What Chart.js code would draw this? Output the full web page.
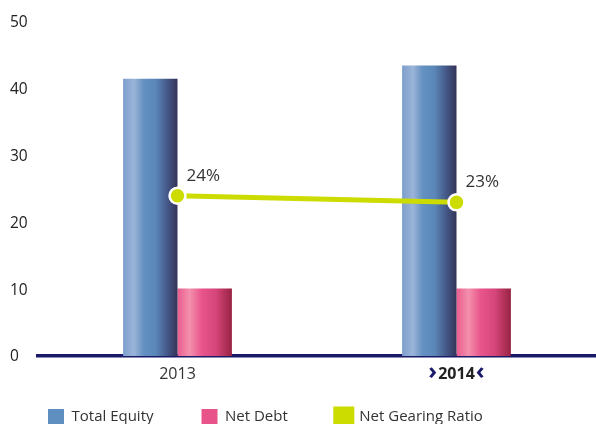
<!DOCTYPE html>
<html>
<head>
<meta charset="utf-8">
<script src="https://cdn.jsdelivr.net/npm/chart.js@4/dist/chart.umd.min.js"></script>
<style>
  html, body { margin: 0; padding: 0; background: #fff; overflow: hidden; }
  #wrap { width: 596px; height: 435px; position: relative; }
</style>
</head>
<body>
<div id="wrap"><canvas id="chart"></canvas></div>
<script>
var years = ['2013', '2014'];
var totalEquity = [41.5, 43.5];
var netDebt = [10.1, 10.1];
var gearingRatio = [24, 23];
var gearingLabels = ['24%', '23%'];
var yTicks = [0, 10, 20, 30, 40, 50];

var FONT = "'Open Sans', 'Noto Sans', sans-serif";
var NAVY = '#1b1a6a';
var LIME = '#cddc00';

// horizontal shading on each bar like the original
var barShade = {
  id: 'barShade',
  beforeDatasetsDraw: function (chart) {
    var ctx = chart.ctx;
    chart.data.datasets.forEach(function (ds, i) {
      if (ds.type !== 'bar') return;
      var meta = chart.getDatasetMeta(i);
      meta.data.forEach(function (el) {
        var p = el.getProps(['x', 'width'], true);
        var g = ctx.createLinearGradient(p.x - p.width / 2, 0, p.x + p.width / 2, 0);
        ds.shade.forEach(function (s) { g.addColorStop(s[0], s[1]); });
        el.options = Object.assign({}, el.options, { backgroundColor: g });
      });
    });
  }
};

// axis labels, ratio labels and the chevrons round 2014
var extras = {
  id: 'extras',
  afterDraw: function (chart) {
    var ctx = chart.ctx;
    var xs = chart.scales.x, ys = chart.scales.y;
    ctx.save();
    ctx.textBaseline = 'middle';

    ctx.font = '15.5px ' + FONT;
    ctx.fillStyle = '#222';
    ctx.textAlign = 'left';
    yTicks.forEach(function (v) {
      ctx.fillText(String(v), 10, ys.getPixelForValue(v) + 1);
    });

    var ty = xs.top + 18;
    ctx.textAlign = 'center';
    years.forEach(function (y, i) {
      ctx.font = (i === 1 ? 'bold ' : '') + '16px ' + FONT;
      ctx.fillStyle = i === 1 ? '#222' : '#333';
      ctx.fillText(y, xs.getPixelForValue(i), ty);
    });

    var px = xs.getPixelForValue(1);
    ctx.font = 'bold 16px ' + FONT;
    var w = ctx.measureText(years[1]).width;
    ctx.font = 'bold 24px ' + FONT;
    ctx.fillStyle = NAVY;
    ctx.textAlign = 'right';
    ctx.fillText('\u203A', px - w / 2 - 1, ty - 2);
    ctx.textAlign = 'left';
    ctx.fillText('\u2039', px + w / 2 + 1, ty - 2);

    var meta = chart.getDatasetMeta(2);
    ctx.font = '17px ' + FONT;
    ctx.fillStyle = '#333';
    ctx.textAlign = 'left';
    meta.data.forEach(function (pt, i) {
      ctx.fillText(gearingLabels[i], pt.x + 9, pt.y - 20);
    });
    ctx.restore();
  }
};

new Chart(document.getElementById('chart'), {
  data: {
    labels: years,
    datasets: [{
      type: 'bar',
      label: 'Total Equity',
      data: totalEquity,
      backgroundColor: '#5f8fc0',
      shade: [[0, '#7d9ecc'], [0.2, '#9bb4d8'], [0.38, '#6391c1'], [0.6, '#5a87b8'], [0.8, '#465a8a'], [1, '#333358']],
      order: 1
    }, {
      type: 'bar',
      label: 'Net Debt',
      data: netDebt,
      backgroundColor: '#e8538a',
      shade: [[0, '#ea5c8f'], [0.22, '#f390ad'], [0.45, '#e8548a'], [0.7, '#d6467a'], [1, '#982343']],
      order: 1
    }, {
      type: 'line',
      label: 'Net Gearing Ratio',
      data: gearingRatio,
      borderColor: LIME,
      backgroundColor: LIME,
      borderWidth: 5,
      pointRadius: 8,
      pointBorderWidth: 2.5,
      pointBorderColor: '#fff',
      pointBackgroundColor: LIME,
      order: 0
    }]
  },
  options: {
    responsive: true,
    maintainAspectRatio: false,
    animation: false,
    categoryPercentage: 0.39,
    barPercentage: 1,
    layout: { autoPadding: false, padding: { left: 0, right: 0, top: 22, bottom: 0 } },
    plugins: {
      tooltip: { enabled: false },
      legend: {
        position: 'bottom',
        align: 'start',
        labels: {
          sort: function (a, b) { return a.datasetIndex - b.datasetIndex; },
          boxWidth: 16,
          boxHeight: 16,
          padding: 48,
          color: '#333',
          font: { family: FONT, size: 15 }
        }
      }
    },
    scales: {
      x: {
        grid: { display: false, drawTicks: false },
        border: { display: true, color: NAVY, width: 3.5 },
        afterFit: function (s) { s.height = 5; },
        ticks: { display: false }
      },
      y: {
        min: 0,
        max: 50,
        afterBuildTicks: function (s) { s.ticks = yTicks.map(function (v) { return { value: v }; }); },
        afterFit: function (s) { s.width = 38; },
        grid: { display: false, drawTicks: false },
        border: { display: false },
        ticks: { display: false }
      }
    }
  },
  plugins: [barShade, extras]
});
</script>
</body>
</html>
